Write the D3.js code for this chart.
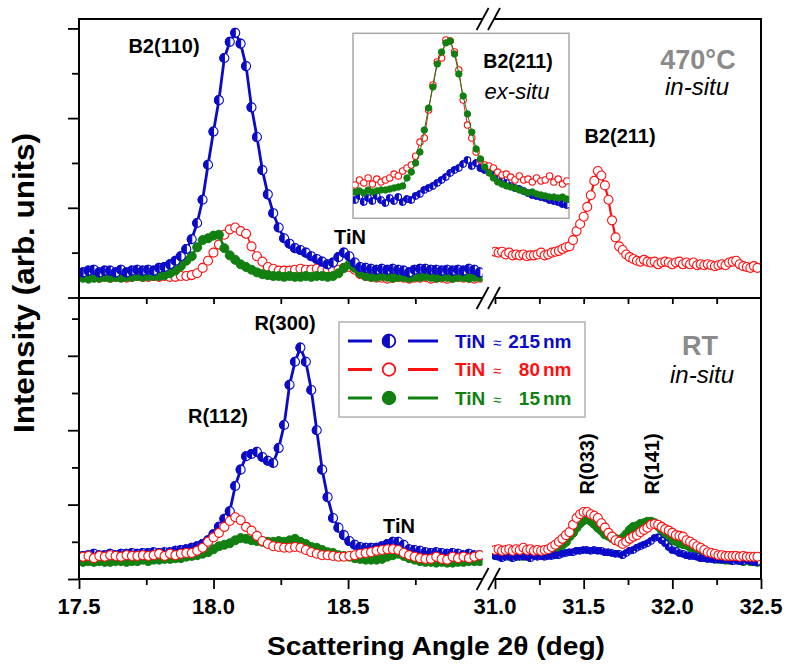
<!DOCTYPE html>
<html><head><meta charset="utf-8">
<script src="https://cdn.jsdelivr.net/npm/d3@7"></script>
<style>body{margin:0;background:#fff}svg{display:block}text{font-family:"Liberation Sans",Arial,sans-serif}</style>
</head><body>
<svg id="c" width="790" height="672"></svg>
<script>
// ---------------- DATA ----------------
// measurement grids (2theta in deg)
const gridLeft  = {start: 17.515, step: 0.0202};
const gridRight = {start: 31.00,  step: 0.02};
const gridInset = {start: 31.01,  step: 0.02};

const seriesNames = ["TiN \u2248215 nm", "TiN \u2248 80 nm", "TiN \u2248 15 nm"];
const xMajorLeft = [17.5, 18.0, 18.5];
const xMinorLeft = [17.75, 18.25, 18.75];
const xMajorRight = [31.0, 31.5, 32.0, 32.5];
const xMinorRight = [31.25, 31.75, 32.25];
const yMajor = [0, 10, 20, 30];
const yMinorTop = [5, 15, 25];
const yMinorBot = [5, 15, 25, 35];

// 470 C in-situ (top panel), left range
const top215L = [2.8,3.0,3.1,2.8,3.0,3.0,2.8,3.1,2.8,3.0,3.1,3.0,3.1,3.0,
 3.3,3.4,3.7,4.1,4.6,5.4,6.5,8.3,10.9,14.8,18.5,22.0,26.7,28.5,29.5,28.3,25.8,21.2,17.9,14.2,11.5,9.4,7.8,6.6,6.0,5.5,5.3,5.0,4.6,4.3,4.0,3.7,3.9,4.5,5.0,4.6,3.9,3.4,3.3,
 3.2,3.1,3.2,3.1,3.2,3.1,3.0,2.8,3.1,3.2,3.2,3.1,3.1,3.0,3.1,3.0,3.1,3.0,3.2,3.1,2.8];
const top80L = [2.3,2.2,2.3,2.2,2.3,2.2,2.3,2.3,2.2,2.3,2.4,2.3,2.3,2.4,2.3,2.4,2.3,2.3,
 2.4,2.4,2.5,2.7,3.3,4.1,5.0,5.9,7.0,7.6,7.8,7.4,7.1,5.7,4.6,4.0,3.4,3.2,3.0,3.0,
 3.0,3.1,3.2,3.1,3.1,3.2,3.1,3.2,3.1,3.1,3.3,3.4,3.1,2.6,2.4,
 2.3,2.2,2.2,2.1,2.2,2.3,2.2,2.1,2.2,2.2,2.3,2.1,2.2,2.2,2.1,2.2,2.3,2.2,2.2,2.1,2.2];
const top15L = [2.2,2.1,2.2,2.2,2.3,2.2,2.3,2.2,2.3,2.3,2.4,2.3,2.4,2.4,
 2.4,2.5,2.7,3.0,3.5,4.1,4.6,5.6,6.4,6.6,6.9,7.0,5.5,4.7,4.2,3.7,3.4,3.1,2.8,2.6,2.5,2.4,
 2.4,2.3,2.4,2.3,2.3,2.4,2.3,2.4,2.4,2.3,2.4,2.7,3.3,3.7,3.3,2.7,2.4,
 2.3,2.3,2.4,2.3,2.2,2.3,2.3,2.2,2.3,2.3,2.4,2.3,2.2,2.3,2.3,2.2,2.3,2.3,2.2,2.3,2.3];
// top panel, right range (only 80 nm measured)
const top80R = [5.1,5.0,5.1,4.8,5.0,4.7,4.8,4.7,4.8,4.6,4.7,4.7,4.8,5.0,4.7,4.8,5.0,5.1,5.2,5.4,
 5.6,5.7,6.4,7.4,8.2,9.0,10.1,11.4,13.0,14.1,13.6,12.5,10.9,8.6,6.7,5.7,5.3,4.8,4.5,4.3,
 4.1,4.0,4.2,4.0,3.9,4.0,3.7,3.9,4.0,3.9,3.7,3.9,4.0,3.7,3.9,3.7,3.9,3.6,3.7,3.6,
 3.7,3.6,3.5,3.6,3.7,3.6,3.9,4.0,4.1,3.7,3.5,3.4,3.3,3.5,3.3];
// inset: B2(211) ex-situ
const inset215 = [9.9,12.1,8.8,11.0,9.4,12.1,9.9,8.3,11.0,9.4,11.5,8.8,10.4,9.9,12.1,13.1,15.3,16.4,17.5,19.1,
 20.7,22.3,24.5,26.1,27.2,29.4,31.5,28.3,29.9,27.2,26.1,25.6,23.4,21.8,20.2,19.1,17.5,16.4,15.8,14.8,
 13.7,12.6,12.1,11.5,11.0,9.9,9.4,8.8,7.7,7.2];
const inset80 = [18.0,20.7,19.1,21.8,18.5,21.2,19.6,20.7,21.8,23.9,22.9,25.6,27.2,28.8,33.6,41.2,43.4,58.5,72.1,84.5,
 86.6,96.4,95.8,89.9,80.2,63.9,50.4,43.4,35.8,31.5,28.8,28.3,27.2,25.0,23.4,23.9,22.3,20.7,22.9,20.7,
 21.2,19.6,21.8,20.2,20.7,22.9,19.6,21.2,18.5,20.2];
const inset15 = [14.2,14.8,13.7,15.3,14.2,14.8,15.3,15.3,15.8,16.4,16.9,17.5,21.8,25.0,29.9,35.8,47.7,59.6,71.0,83.4,
 89.9,94.8,95.8,88.8,78.0,66.1,56.4,46.6,37.5,32.1,27.7,24.5,21.8,19.6,18.5,17.5,16.9,16.4,15.3,14.8,
 13.7,14.2,13.1,12.6,12.1,11.5,11.5,11.0,11.5,10.4];

// RT in-situ (bottom panel), left range
const bot215L = [3.1,3.2,3.4,3.2,3.2,3.4,3.2,3.4,3.4,3.5,3.4,3.5,3.5,3.6,3.5,3.6,3.6,3.8,
 3.9,4.0,4.2,4.4,4.7,5.2,6.0,7.0,8.1,9.1,12.5,14.7,16.5,16.8,17.1,16.4,15.9,15.6,
 17.6,20.7,26.1,29.2,31.1,29.2,25.4,20.0,14.7,11.0,8.2,6.9,5.9,5.1,4.6,4.3,4.2,
 4.2,4.2,4.4,4.7,5.0,5.0,4.6,4.0,3.9,3.8,3.6,
 3.5,3.6,3.5,3.4,3.5,3.4,3.2,3.4,3.2,3.2];
const bot80L = [3.0,3.1,2.8,3.1,3.0,3.2,3.1,3.0,3.2,3.1,3.1,3.2,3.1,3.2,3.4,3.1,3.4,3.2,
 3.4,3.5,3.5,3.8,4.2,5.0,5.6,6.2,7.0,7.8,8.3,7.9,7.0,6.5,5.8,5.1,4.7,4.4,4.3,4.2,4.2,4.3,4.2,
 3.9,3.6,3.4,3.2,3.2,3.1,3.0,3.0,3.1,3.2,3.4,3.5,3.6,3.8,3.9,4.0,4.0,3.9,
 3.5,3.2,3.0,2.8,2.7,2.7,3.0,2.7,2.6,3.0,2.8,3.0,2.8,3.0,3.2];
const bot15L = [2.3,2.4,2.3,2.4,2.3,2.3,2.4,2.4,2.3,2.4,2.4,2.6,2.4,2.6,2.6,2.7,2.7,2.8,
 2.8,3.0,3.1,3.2,3.4,3.6,4.0,4.4,4.6,4.8,5.2,5.5,5.4,5.2,5.1,5.0,5.0,5.0,5.1,5.0,5.2,5.4,5.0,
 4.7,4.3,4.2,3.9,3.6,3.5,3.2,3.1,3.0,2.8,2.7,2.6,2.6,2.6,2.7,3.0,3.2,3.4,
 3.1,2.8,2.6,2.4,2.3,2.3,2.2,2.3,2.2,2.2,2.3,2.3,2.4,2.4,2.4];
// bottom panel, right range
const bot215R = [3.1,3.0,2.8,3.0,3.1,2.8,3.0,3.0,3.1,3.0,2.8,3.1,3.0,3.1,3.0,3.1,
 3.1,3.2,3.2,3.4,3.5,3.6,3.6,3.8,3.8,3.9,3.9,3.8,3.9,3.8,3.8,3.6,3.6,3.5,3.4,3.4,3.2,
 3.5,3.8,3.9,4.2,4.4,4.6,4.8,5.1,5.5,5.6,5.2,4.8,4.3,3.9,3.8,3.5,3.4,3.2,3.1,3.1,3.0,2.8,2.8,
 2.7,2.7,2.6,2.7,2.6,2.6,2.6,2.4,2.6,2.4,2.4,2.6,2.4,2.3,2.3];
const bot80R = [3.9,4.0,3.8,3.9,4.0,3.8,4.0,3.9,4.2,3.9,4.0,3.8,3.9,3.8,3.9,4.0,
 4.3,4.6,5.0,5.4,5.9,6.3,7.3,8.2,8.7,9.0,9.0,8.7,8.5,8.2,7.5,6.9,6.2,5.7,5.2,5.0,4.7,
 5.0,5.4,5.7,5.9,6.3,6.6,6.9,7.3,7.4,7.3,7.0,6.7,6.5,6.2,5.9,5.8,5.7,5.2,5.0,4.7,4.4,4.2,
 3.9,3.6,3.5,3.4,3.2,3.2,3.1,3.1,3.1,3.1,3.0,3.1,3.0,3.0,3.0,3.0];
const bot15R = [3.2,3.4,3.1,3.2,3.1,3.4,3.1,3.2,3.1,3.2,3.1,3.2,3.4,3.2,3.4,
 3.5,3.6,3.9,4.2,4.6,5.0,5.7,6.2,6.9,7.5,7.9,8.1,7.8,7.4,6.9,6.5,6.0,5.8,5.5,5.4,5.2,
 5.5,6.0,6.6,7.0,7.1,7.4,7.5,7.7,7.7,7.5,7.1,6.6,6.0,5.5,5.2,
 5.1,4.8,4.7,4.6,4.3,4.2,3.9,3.6,3.4,3.2,3.0,2.8,2.7,2.7,2.6,2.6,2.7,2.6,2.6,2.4,2.6,2.4,2.4,2.3];

// ---------------- CHART ----------------
const BLUE = "#0a0ac8", RED = "#ff1010", GREEN = "#118011";
const svg = d3.select("#c");
const L = 79, R = 761, T = 19, MID = 298, B = 579;
const xL = d3.scaleLinear([17.5, 19.0], [L, 482.6]);
const xR = d3.scaleLinear([31.0, 32.5], [495, R]);
const yTop = d3.scaleLinear([0, 31.05], [297.5, T]);
const yBot = d3.scaleLinear([0, 37.77], [B, MID]);
const xIn = d3.scaleLinear([31.0, 32.0], [353, 569]);
const yIn = d3.scaleLinear([0, 100], [218.3, 33.3]);

const pts = (vals, grid) => vals.map((v, i) => [grid.start + i * grid.step, v]);

function drawSeries(g, vals, grid, xs, ys, kind, opt = {}) {
  const data = pts(vals, grid);
  const r = opt.r || 4.5;
  const color = kind === "half" ? BLUE : kind === "open" ? RED : GREEN;
  if (opt.line !== false) {
    g.append("path").datum(data)
      .attr("d", d3.line().x(d => xs(d[0])).y(d => ys(d[1])))
      .attr("fill", "none").attr("stroke", color)
      .attr("stroke-width", opt.lw || 2.5).attr("stroke-linejoin", "round");
  }
  const m = g.append("g").selectAll("g").data(data).join("g")
    .attr("transform", d => `translate(${xs(d[0])},${ys(d[1])})`);
  marker(m, kind, r);
}
function marker(sel, kind, r) {
  if (kind === "half") {
    sel.append("circle").attr("r", r).attr("fill", "#fff").attr("stroke", BLUE).attr("stroke-width", 1.1);
    sel.append("path").attr("d", `M0,${-r}A${r},${r} 0 0 0 0,${r}Z`).attr("fill", BLUE).attr("stroke", BLUE).attr("stroke-width", 1.1);
  } else if (kind === "open") {
    sel.append("circle").attr("r", r).attr("fill", "#fff").attr("stroke", RED).attr("stroke-width", 1.1);
  } else {
    sel.append("circle").attr("r", r).attr("fill", GREEN).attr("stroke", GREEN).attr("stroke-width", 1);
  }
}

// clip paths
const defs = svg.append("defs");
defs.append("clipPath").attr("id", "cl").append("rect").attr("x", L).attr("y", T).attr("width", 482.6 - L).attr("height", B - T);
defs.append("clipPath").attr("id", "cr").append("rect").attr("x", 492).attr("y", T).attr("width", R - 492).attr("height", B - T);
defs.append("clipPath").attr("id", "ci").append("rect").attr("x", 353).attr("y", 33.3).attr("width", 216).attr("height", 185);

// top panel
const gTL = svg.append("g").attr("clip-path", "url(#cl)");
drawSeries(gTL, top80L, gridLeft, xL, yTop, "open", {lw: 1.5});
drawSeries(gTL, top15L, gridLeft, xL, yTop, "fill", {lw: 2.5});
drawSeries(gTL, top215L, gridLeft, xL, yTop, "half", {lw: 2.8});
const gTR = svg.append("g").attr("clip-path", "url(#cr)");
drawSeries(gTR, top80R, gridRight, xR, yTop, "open", {lw: 2.2});

// inset
svg.append("rect").attr("x", 353).attr("y", 33.3).attr("width", 216).attr("height", 185)
  .attr("fill", "#fff").attr("stroke", "#a8a8a8").attr("stroke-width", 1.5);
const gI = svg.append("g").attr("clip-path", "url(#ci)");
drawSeries(gI, inset215, gridInset, xIn, yIn, "half", {r: 3.2, line: false});
drawSeries(gI, inset80, gridInset, xIn, yIn, "open", {r: 3.2, lw: 1});
drawSeries(gI, inset15, gridInset, xIn, yIn, "fill", {r: 3.2, lw: 1});

// bottom panel
const gBL = svg.append("g").attr("clip-path", "url(#cl)");
drawSeries(gBL, bot15L, gridLeft, xL, yBot, "fill", {lw: 2.5});
drawSeries(gBL, bot215L, gridLeft, xL, yBot, "half", {lw: 2.8});
drawSeries(gBL, bot80L, gridLeft, xL, yBot, "open", {lw: 1.5});
const gBR = svg.append("g").attr("clip-path", "url(#cr)");
drawSeries(gBR, bot15R, gridRight, xR, yBot, "fill", {lw: 2.5});
drawSeries(gBR, bot215R, gridRight, xR, yBot, "half", {r: 3.2, lw: 2});
drawSeries(gBR, bot80R, gridRight, xR, yBot, "open", {lw: 1.5});

// ---- axes & frame ----
const ax = svg.append("g");
function tickAxis(gen, scale, vals, size, tx, ty) {
  const a = ax.append("g").attr("transform", `translate(${tx},${ty})`)
    .call(gen(scale).tickValues(vals).tickSize(size).tickFormat(""));
  a.select(".domain").remove();
  a.selectAll("line").attr("stroke", "#000").attr("stroke-width", 1.8);
  return a;
}
// bottom axis: outward ticks
tickAxis(d3.axisBottom, xL, xMajorLeft, 10, 0, B);
tickAxis(d3.axisBottom, xL, xMinorLeft, 6, 0, B);
tickAxis(d3.axisBottom, xR, xMajorRight, 10, 0, B);
tickAxis(d3.axisBottom, xR, xMinorRight, 6, 0, B);
// inner ticks at top of lower panel
tickAxis(d3.axisTop, xL, xMajorLeft.concat(xMinorLeft).filter(v => v > 17.5), -6, 0, MID);
tickAxis(d3.axisTop, xR, xMajorRight.concat(xMinorRight).filter(v => v < 32.5), -6, 0, MID);
// left ticks
tickAxis(d3.axisLeft, yTop, yMajor, 11, L, 0);
tickAxis(d3.axisLeft, yTop, yMinorTop, 7, L, 0);
tickAxis(d3.axisLeft, yBot, yMajor, 11, L, 0);
tickAxis(d3.axisLeft, yBot, yMinorBot, 7, L, 0);

// tick labels
const lab = ax.append("g").attr("font-weight", "bold").attr("font-size", 22).attr("text-anchor", "middle");
xMajorLeft.forEach(v => lab.append("text").attr("x", xL(v)).attr("y", 614).text(v.toFixed(1)));
xMajorRight.forEach(v => lab.append("text").attr("x", xR(v)).attr("y", 614).text(v.toFixed(1)));

// frame lines with breaks
const b1 = 482.6, b2 = 494;
const fr = svg.append("g").attr("stroke", "#000").attr("stroke-width", 2).attr("fill", "none");
[T, MID, B].forEach(y => {
  fr.append("line").attr("x1", L).attr("x2", b1).attr("y1", y).attr("y2", y);
  fr.append("line").attr("x1", b2).attr("x2", R).attr("y1", y).attr("y2", y);
  [b1, b2].forEach(b => {
    fr.append("line").attr("x1", b - 6).attr("y1", y + 11).attr("x2", b + 6).attr("y2", y - 11).attr("stroke-width", 1.8);
  });
});
fr.append("line").attr("x1", L).attr("x2", L).attr("y1", T - 1).attr("y2", B + 1);
fr.append("line").attr("x1", R).attr("x2", R).attr("y1", T - 1).attr("y2", B + 1);

// axis titles
svg.append("text").attr("x", 436).attr("y", 655).attr("text-anchor", "middle")
  .attr("font-weight", "bold").attr("font-size", 25).attr("textLength", 338).attr("lengthAdjust", "spacingAndGlyphs")
  .text("Scattering Angle 2\u03b8 (deg)");
svg.append("text").attr("transform", "translate(34,283) rotate(-90)").attr("text-anchor", "middle")
  .attr("font-weight", "bold").attr("font-size", 29).attr("textLength", 300).attr("lengthAdjust", "spacingAndGlyphs")
  .text("Intensity (arb. units)");

// annotations
function txt(x, y, s, o = {}) {
  const t = svg.append("text").attr("x", x).attr("y", y).attr("text-anchor", o.anchor || "middle")
    .attr("font-size", o.size || 20).attr("font-weight", o.weight || "bold")
    .attr("fill", o.fill || "#000").text(s);
  if (o.italic) t.attr("font-style", "italic");
  if (o.rot) t.attr("transform", `rotate(-90,${x},${y})`);
  return t;
}
txt(164, 53, "B2(110)");
txt(350, 244, "TiN");
txt(518, 68, "B2(211)", {size: 19.5});
txt(517, 99, "ex-situ", {weight: "normal", italic: true, size: 22});
txt(698, 69, "470\u00b0C", {size: 27, fill: "#8a8a8a"});
txt(697, 95, "in-situ", {weight: "normal", italic: true, size: 24});
txt(620, 143, "B2(211)");
txt(285, 330, "R(300)");
txt(218, 423, "R(112)");
txt(399, 533, "TiN");
txt(700, 355, "RT", {size: 27, fill: "#8a8a8a"});
txt(702, 383, "in-situ", {weight: "normal", italic: true, size: 24});
txt(594, 464, "R(033)", {rot: true});
txt(659, 464, "R(141)", {rot: true});

// legend
const lg = svg.append("g");
lg.append("rect").attr("x", 339).attr("y", 322).attr("width", 246).attr("height", 95)
  .attr("fill", "#fff").attr("stroke", "#c4c4c4").attr("stroke-width", 2);
const kinds = ["half", "open", "fill"], cols = [BLUE, RED, GREEN], nums = ["215", "80", "15"];
kinds.forEach((k, i) => {
  const y = 341 + i * 28.5;
  const row = lg.append("g");
  row.append("line").attr("x1", 348).attr("x2", 372).attr("y1", y).attr("y2", y).attr("stroke", cols[i]).attr("stroke-width", 3);
  row.append("line").attr("x1", 408).attr("x2", 438).attr("y1", y).attr("y2", y).attr("stroke", cols[i]).attr("stroke-width", 3);
  marker(row.append("g").attr("transform", `translate(389,${y})`), k, 6.3);
  row.selectAll("circle,path").attr("stroke-width", 1.8);
  const ty = y + 6.5;
  row.append("text").attr("x", 455).attr("y", ty).attr("font-weight", "bold").attr("font-size", 19).attr("fill", cols[i]).text("TiN");
  row.append("text").attr("x", 493).attr("y", ty).attr("font-size", 15).attr("fill", cols[i]).text("\u2248");
  row.append("text").attr("x", 540).attr("y", ty).attr("text-anchor", "end").attr("font-weight", "bold").attr("font-size", 19).attr("fill", cols[i]).text(nums[i]);
  row.append("text").attr("x", 543).attr("y", ty).attr("font-weight", "bold").attr("font-size", 19).attr("fill", cols[i]).text("nm");
});
</script>
</body></html>
